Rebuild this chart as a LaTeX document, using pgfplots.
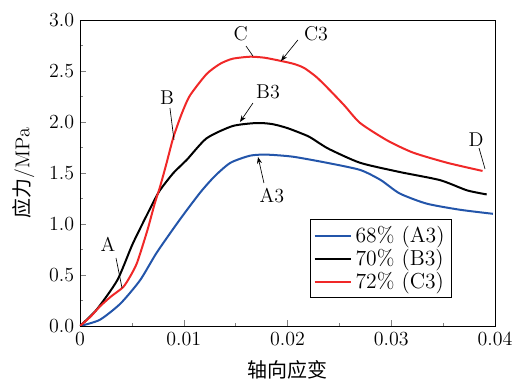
\documentclass[border=0pt]{standalone}
\usepackage{pgfplots}
\pgfplotsset{compat=1.18}
\usepackage{fontspec}
\newfontfamily\cjk{Noto Sans CJK SC}
\usetikzlibrary{arrows.meta}
\definecolor{cblue}{RGB}{35,85,170}
\definecolor{cred}{RGB}{240,40,40}
\begin{document}
\begin{tikzpicture}[font=\fontsize{12}{14}\selectfont]
\begin{axis}[
  scale only axis, width=249pt, height=183.6pt,
  xmin=0, xmax=0.04, ymin=0, ymax=3,
  scaled x ticks=false,
  xtick={0,0.01,0.02,0.03,0.04},
  xticklabels={0,0.01,0.02,0.03,0.04},
  ytick={0,0.5,1,1.5,2,2.5,3},
  yticklabel style={/pgf/number format/fixed,/pgf/number format/fixed zerofill,/pgf/number format/precision=1},
  tick label style={font=\fontsize{12}{14}\selectfont},
  label style={font=\fontsize{12}{14}\selectfont},
  minor x tick num=1, minor y tick num=1,
  tick align=inside, xtick pos=left, ytick pos=left,
  major tick length=3.6pt, minor tick length=2pt,
  xlabel={{\cjk 轴向应变}}, ylabel={{\cjk 应力}/MPa},
  xlabel style={yshift=-2pt}, ylabel style={yshift=2pt},
  legend style={at={(rel axis cs:0.554,0.0915)}, anchor=south west, draw=black, fill=white, font=\fontsize{13}{14}\selectfont, row sep=-1.5pt, inner sep=2pt},
  legend cell align=left,
  legend image code/.code={\draw[#1, line width=1.2pt] (0pt,0pt) -- (22pt,0pt);},
  every axis plot/.append style={line width=1.2pt, smooth, tension=0.4},
]
\addplot[cblue] coordinates {(0,0)(0.0019,0.06)(0.0039,0.22)(0.0058,0.45)(0.0074,0.72)(0.0096,1.04)(0.0116,1.31)(0.0130,1.47)(0.0145,1.60)(0.0164,1.67)(0.0180,1.68)(0.0205,1.66)(0.0238,1.60)(0.027,1.53)(0.0290,1.43)(0.0308,1.30)(0.0334,1.20)(0.0366,1.14)(0.0398,1.10)};
\addlegendentry{68\% (A3)}
\addplot[black] coordinates {(0,0)(0.0016,0.16)(0.0036,0.45)(0.0051,0.81)(0.007,1.2)(0.0077,1.33)(0.009,1.50)(0.0103,1.63)(0.0122,1.84)(0.0147,1.96)(0.017,1.99)(0.0185,1.98)(0.02,1.94)(0.022,1.86)(0.0231,1.79)(0.0241,1.73)(0.027,1.60)(0.0308,1.51)(0.0347,1.43)(0.0373,1.33)(0.0392,1.29)};
\addlegendentry{70\% (B3)}
\addplot[cred] coordinates {(0,0)(0.001,0.09)(0.0019,0.19)(0.003,0.29)(0.00415,0.38)(0.0048,0.48)(0.0055,0.62)(0.0065,0.94)(0.0072,1.2)(0.0077,1.36)(0.0083,1.58)(0.009,1.85)(0.0098,2.08)(0.0106,2.26)(0.0122,2.47)(0.0135,2.57)(0.0147,2.62)(0.0164,2.64)(0.0178,2.63)(0.0193,2.60)(0.0206,2.57)(0.0216,2.53)(0.0228,2.44)(0.0240,2.32)(0.0255,2.16)(0.027,1.99)(0.0296,1.82)(0.0321,1.70)(0.0354,1.60)(0.0388,1.52)};
\addlegendentry{72\% (C3)}
% annotations
\node at (axis cs:0.0027,0.80) {A};
\draw[thin] (axis cs:0.00347,0.667) -- (axis cs:0.00405,0.373);
\node at (axis cs:0.00839,2.235) {B};
\draw[thin] (axis cs:0.00867,2.137) -- (axis cs:0.00906,1.824);
\node at (axis cs:0.0155,2.863) {C};
\draw[thin] (axis cs:0.016,2.745) -- (axis cs:0.01667,2.647);
\node at (axis cs:0.02275,2.863) {C3};
\draw[thin,-{Stealth[length=4pt,width=3pt]}] (axis cs:0.0210,2.804) -- (axis cs:0.01937,2.598);
\node at (axis cs:0.01812,2.294) {B3};
\draw[thin,-{Stealth[length=4pt,width=3pt]}] (axis cs:0.01667,2.186) -- (axis cs:0.01542,2.0);
\node at (axis cs:0.0185,1.275) {A3};
\draw[thin,-{Stealth[length=4pt,width=3pt]}] (axis cs:0.01773,1.402) -- (axis cs:0.01716,1.657);
\node at (axis cs:0.03817,1.824) {D};
\draw[thin] (axis cs:0.03846,1.745) -- (axis cs:0.03904,1.539);
\end{axis}
\pgfresetboundingbox
\path (current axis.south west) ++(-48pt,-31.8pt) rectangle ([shift={(16.8pt,12pt)}]current axis.north east);
\end{tikzpicture}
\end{document}
